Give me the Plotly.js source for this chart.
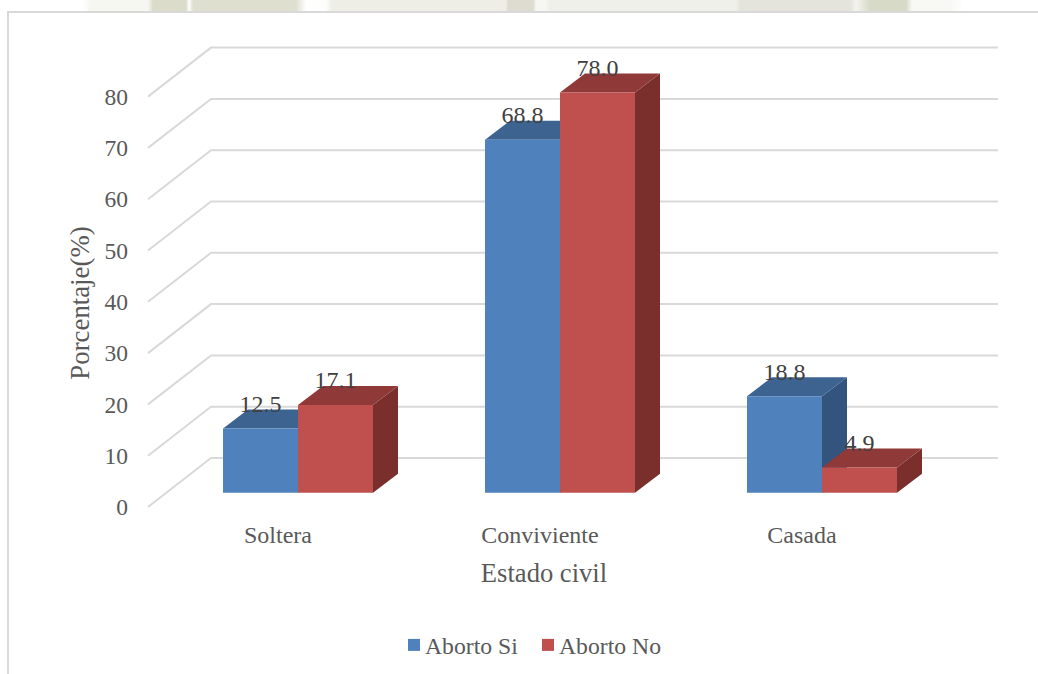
<!DOCTYPE html>
<html lang="es">
<head>
<meta charset="utf-8">
<title>Estado civil y aborto</title>
<script src="https://cdn.plot.ly/plotly-3.0.1.min.js"></script>
<style>
  html, body { margin: 0; padding: 0; width: 1038px; height: 674px; overflow: hidden; background: #fff; }
  /* pale letterhead emblem showing above the chart frame */
  #strip { position: absolute; left: 0; top: 0; width: 1038px; height: 12px;
    background: linear-gradient(to right,
      #fff 0, #fff 83px, #f7f7f2 90px, #f7f7f2 148px, #dcdccb 153px, #dcdccb 186px, #fff 189px, #dfdfd0 193px,
      #dfdfd0 296px, #fff 306px, #fdfdfb 326px, #eeeee7 332px, #eeeee7 506px, #dedcd0 508px, #dedcd0 533px,
      #f6f6f2 536px, #f6f6f2 546px, #f0f0ea 549px, #f0f0ea 736px, #e4e3dc 740px, #e4e3dc 850px, #f4f4ef 856px,
      #d8dac8 870px, #d8dac8 906px, #f8f8f4 912px, #f8f8f4 950px, #fff 964px, #fff 100%); }
  #frame { position: absolute; left: 7px; top: 11px; width: 1031px; height: 663px; box-sizing: border-box;
    background: #fff; border-top: 2px solid #d9d9d9; border-left: 2px solid #d9d9d9; }
  #chart { position: absolute; left: 0; top: 0; width: 1038px; height: 674px; }
</style>
</head>
<body>
<div id="strip"></div>
<div id="frame"></div>
<div id="chart"></div>
<script>
// Estado civil de las pacientes según aborto, en porcentaje
const categories = ['Soltera', 'Conviviente', 'Casada'];
const abortoSi = [12.5, 68.8, 18.8];
const abortoNo = [17.1, 78.0, 4.9];
const yTicks = [0, 10, 20, 30, 40, 50, 60, 70, 80];

const SERIF = '"Liberation Serif", "Times New Roman", serif';
const BLUE = { front: '#4f81bd', top: '#3d6491', side: '#32547d' };
const RED = { front: '#c0504d', top: '#8f3a38', side: '#7a2f2d' };

// Oblique projection of the extruded look, in axis units
const PX_X = 262;                 // pixels per category
const PX_Y = 5.13;                // pixels per percentage point
const wallDx = 63 / PX_X, wallDy = 49 / PX_Y;
const barDx = 25 / PX_X, barDy = 19 / PX_Y;
const floorLift = 14.3 / PX_Y;    // bar bases stand above the axis zero
const barWidth = 75 / PX_X;
const offsetSi = -55 / PX_X, offsetNo = 20 / PX_X;
const wallLeft = -130 / PX_X, wallRight = 720 / PX_X;

const indices = categories.map((_, i) => i);
const poly = pts => 'M' + pts.map(p => p[0] + ',' + p[1]).join('L') + 'Z';

const shapes = [];
yTicks.forEach(v => {
  shapes.push({
    type: 'path', layer: 'below', xref: 'x', yref: 'y',
    path: `M${wallLeft},${v}L${wallLeft + wallDx},${v + wallDy}L${wallRight},${v + wallDy}`,
    line: { color: '#d9d9d9', width: 2 }
  });
});

// Top and side faces, blue series first so red overlaps it
function addFaces(values, offset, colors) {
  values.forEach((val, i) => {
    const x0 = i + offset, x1 = x0 + barWidth;
    const y0 = floorLift, y1 = floorLift + val;
    shapes.push({
      type: 'path', layer: 'below', xref: 'x', yref: 'y', fillcolor: colors.side, line: { width: 0 },
      path: poly([[x1, y0], [x1 + barDx, y0 + barDy], [x1 + barDx, y1 + barDy], [x1, y1]])
    });
    shapes.push({
      type: 'path', layer: 'below', xref: 'x', yref: 'y', fillcolor: colors.top, line: { width: 0 },
      path: poly([[x0, y1], [x1, y1], [x1 + barDx, y1 + barDy], [x0 + barDx, y1 + barDy]])
    });
  });
}
addFaces(abortoSi, offsetSi, BLUE);
addFaces(abortoNo, offsetNo, RED);

const frontBar = (name, values, offset, color) => ({
  type: 'bar', name, x: indices, y: values,
  base: floorLift, offset, width: barWidth,
  marker: { color, line: { width: 0 } }, hoverinfo: 'name+text', text: values.map(v => v.toFixed(1)), textposition: 'none'
});

const valueLabels = (values, offset, name) => ({
  type: 'scatter', mode: 'text', showlegend: false, hoverinfo: 'skip', name,
  x: indices.map(i => i + offset + barWidth / 2),
  y: values.map(v => floorLift + v + 22.5 / PX_Y),
  text: values.map(v => v.toFixed(1)),
  textposition: 'middle center',
  textfont: { family: SERIF, size: 24, color: '#404040' }
});

const traces = [
  frontBar('Aborto Si', abortoSi, offsetSi, BLUE.front),
  frontBar('Aborto No', abortoNo, offsetNo, RED.front),
  valueLabels(abortoSi, offsetSi, 'Etiquetas Si'),
  valueLabels(abortoNo, offsetNo, 'Etiquetas No')
];

const layout = {
  width: 1038, height: 674,
  margin: { l: 90, r: 40, t: 46, b: 114, pad: 0, autoexpand: false },
  paper_bgcolor: 'rgba(0,0,0,0)', plot_bgcolor: 'rgba(0,0,0,0)',
  font: { family: SERIF, color: '#595959', size: 23.5 },
  barmode: 'overlay',
  shapes,
  xaxis: {
    range: [-188 / PX_X, 720 / PX_X],
    tickvals: indices, ticktext: categories,
    showgrid: false, zeroline: false, showline: false, ticks: '',
    anchor: 'free', position: 53 / 514,
    ticklabelstandoff: 11,
    tickfont: { family: SERIF, size: 24, color: '#595959' },
    title: { text: 'Estado civil', standoff: 16, font: { family: SERIF, size: 26.6, color: '#595959' } }
  },
  yaxis: {
    range: [-53 / PX_Y, 461 / PX_Y],
    tickvals: yTicks,
    showgrid: false, zeroline: false, showline: false, ticks: '',
    anchor: 'free', position: 58 / 908,
    ticklabelstandoff: 20,
    tickfont: { family: SERIF, size: 23.5, color: '#595959' },
    title: { text: 'Porcentaje(%)', standoff: 6, font: { family: SERIF, size: 26.8, color: '#595959' } }
  },
  showlegend: true,
  legend: {
    orientation: 'h', x: (394 - 90) / 908, xanchor: 'left', y: (560 - 645) / 514, yanchor: 'middle',
    entrywidth: 89, entrywidthmode: 'pixels',
    traceorder: 'normal', font: { family: SERIF, size: 23.7, color: '#595959' }, bgcolor: 'rgba(0,0,0,0)'
  }
};

Plotly.newPlot('chart', traces, layout, { displayModeBar: false, responsive: false }).then(gd => {
  // Pull legend text closer to its swatch
  gd.querySelectorAll('.legend .legendtext').forEach(t => {
    t.setAttribute('x', String(parseFloat(t.getAttribute('x')) - 9));
  });
});
</script>
</body>
</html>
